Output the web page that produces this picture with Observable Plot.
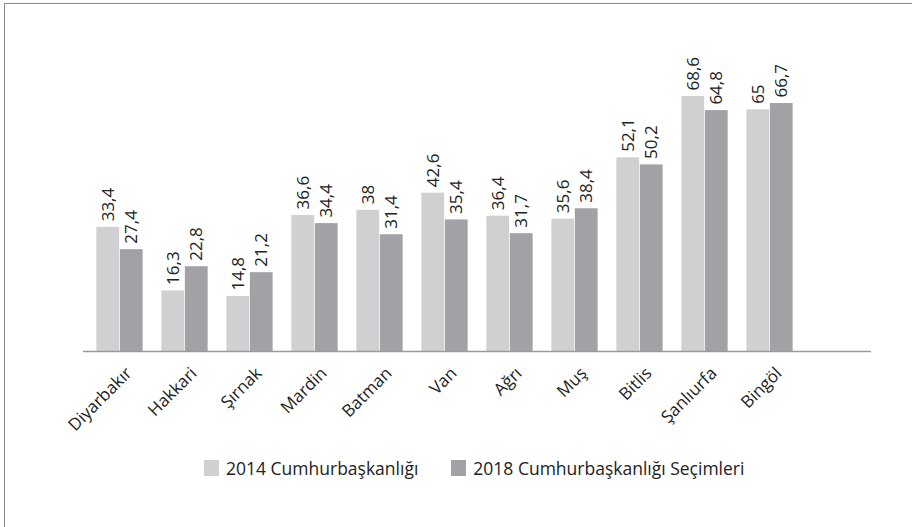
<!DOCTYPE html>
<html><head><meta charset="utf-8">
<script src="https://cdn.jsdelivr.net/npm/d3@7"></script>
<script src="https://cdn.jsdelivr.net/npm/@observablehq/plot@0.6"></script>
<style>
body{margin:0;background:#fff;}
#wrap{position:relative;width:912px;height:527px;overflow:hidden;background:#fff;}
#frame{position:absolute;left:4px;top:3px;width:940px;height:560px;border-top:1px solid #8a8a8a;border-left:1px solid #8a8a8a;}
#chart{position:absolute;left:0;top:0;}
#legend{position:absolute;top:456px;left:204px;display:flex;align-items:center;font-family:"Open Sans",sans-serif;font-size:17.5px;color:#222;}
.item{display:flex;align-items:center;margin-right:33px;}
.sw{width:15px;height:16px;margin-right:7px;}
</style></head>
<body><div id="wrap"><div id="frame"></div><div id="chart"></div><div id="legend"></div></div>
<script>
const cats = ["Diyarbakır","Hakkari","Şırnak","Mardin","Batman","Van","Ağrı","Muş","Bitlis","Şanlıurfa","Bingöl"];
const v2014 = [33.4,16.3,14.8,36.6,38,42.6,36.4,35.6,52.1,68.6,65];
const v2018 = [27.4,22.8,21.2,34.4,31.4,35.4,31.7,38.4,50.2,64.8,66.7];
const seriesNames = ["2014 Cumhurbaşkanlığı","2018 Cumhurbaşkanlığı Seçimleri"];
const colors = ["#d0d0d2","#a2a1a6"];

const rows = cats.map((c,i)=>({cat:c, a:v2014[i], b:v2018[i]}));
const fmt = v => String(v).replace(".", ",");
const x0 = 83, x1 = 806;
const step = (x1 - x0) / cats.length;
const barW = 23.5;
const outer = step/2 - barW;
const font = "'Open Sans', sans-serif";

const chart = Plot.plot({
  width: 912, height: 440,
  marginLeft: 83, marginRight: 41, marginTop: 0, marginBottom: 89,
  style: {background: "transparent", fontFamily: font},
  x: {domain: cats, range: [x0, x1], padding: 0, axis: null},
  y: {domain: [0, 80], range: [351, 53.6], axis: null},
  marks: [
    Plot.barY(rows, {x: "cat", y: "a", fill: colors[0], insetLeft: outer, insetRight: step/2}),
    Plot.barY(rows, {x: "cat", y: "b", fill: colors[1], insetLeft: step/2, insetRight: outer}),
    Plot.ruleY([0], {stroke: "#9a9a9a", strokeWidth: 1.5}),
    Plot.text(rows, {x: "cat", y: "a", text: d => fmt(d.a), rotate: -90, textAnchor: "start", dx: -barW/2, dy: -6, fontSize: 17, fill: "#222", fontFamily: font}),
    Plot.text(rows, {x: "cat", y: "b", text: d => fmt(d.b), rotate: -90, textAnchor: "start", dx: barW/2, dy: -6, fontSize: 17, fill: "#222", fontFamily: font}),
    Plot.axisX({tickRotate: -45, tickSize: 0, tickPadding: 19, dx: 9, fontSize: 17, fontFamily: font, color: "#222", label: null})
  ]
});
document.getElementById("chart").appendChild(chart);

const legend = document.getElementById("legend");
seriesNames.forEach((n, i) => {
  const it = document.createElement("div"); it.className = "item";
  const sw = document.createElement("div"); sw.className = "sw"; sw.style.background = colors[i];
  const t = document.createElement("span"); t.textContent = n;
  it.appendChild(sw); it.appendChild(t); legend.appendChild(it);
});
</script>
</body></html>
